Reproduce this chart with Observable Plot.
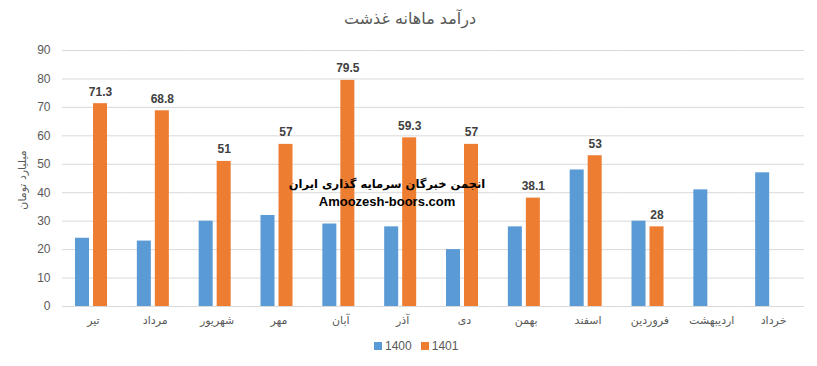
<!DOCTYPE html>
<html>
<head>
<meta charset="utf-8">
<script src="https://cdn.jsdelivr.net/npm/d3@7"></script>
<script src="https://cdn.jsdelivr.net/npm/@observablehq/plot@0.6"></script>
<style>
  html, body { margin: 0; padding: 0; background: #fff; }
  body { width: 817px; height: 366px; position: relative; overflow: hidden; font-family: "Liberation Sans", "DejaVu Sans", sans-serif; }
  #title { position: absolute; left: 0; width: 820px; top: 9px; text-align: center; font-size: 16px; color: #595959; font-family: "DejaVu Sans", sans-serif; }
  #chart { position: absolute; left: 0; top: 36px; }
  #ylabel { position: absolute; left: 22px; top: 180px; transform: translate(-50%, -50%) rotate(-90deg); font-size: 11px; color: #595959; white-space: nowrap; font-family: "DejaVu Sans", sans-serif; }
  #legend { position: absolute; top: 339px; left: 374px; font-size: 12px; color: #595959; display: flex; align-items: center; }
  #legend span.sw { display: inline-block; width: 8px; height: 8px; margin-right: 3px; }
  #legend span.lb { margin-right: 9px; }
  #wm { position: absolute; left: 387px; top: 175px; transform: translateX(-50%); text-align: center; font-weight: bold; color: #000; font-size: 13px; line-height: 18px; white-space: nowrap; }
  #wm .fa { font-family: "DejaVu Sans", sans-serif; font-size: 11.5px; }
</style>
</head>
<body>
<div id="title">درآمد ماهانه غذشت</div>
<div id="chart"></div>
<div id="ylabel">میلیارد تومان</div>
<div id="wm"><div class="fa">انجمن خبرگان سرمایه گذاری ایران</div><div>Amoozesh-boors.com</div></div>
<div id="legend"><span class="sw" style="background:#5B9BD5"></span><span class="lb">1400</span><span class="sw" style="background:#ED7D31"></span><span>1401</span></div>
<script>
const months = ["تیر", "مرداد", "شهریور", "مهر", "آبان", "آذر", "دی", "بهمن", "اسفند", "فروردین", "اردیبهشت", "خرداد"];
const series = ["1400", "1401"];
const values1400 = [24, 23, 30, 32, 29, 28, 20, 28, 48, 30, 41, 47];
const values1401 = [71.3, 68.8, 51, 57, 79.5, 59.3, 57, 38.1, 53, 28, null, null];
const yTicks = [0, 10, 20, 30, 40, 50, 60, 70, 80, 90];
const colors = ["#5B9BD5", "#ED7D31"];

const rows = [];
months.forEach((m, i) => {
  if (values1400[i] != null) rows.push({month: m, year: "1400", value: values1400[i]});
  if (values1401[i] != null) rows.push({month: m, year: "1401", value: values1401[i]});
});
const labelRows = rows.filter(d => d.year === "1401");

const font = "Liberation Sans, DejaVu Sans, sans-serif";

const chart = Plot.plot({
  width: 817,
  height: 300,
  marginLeft: 62,
  marginRight: 13,
  marginTop: 14,
  marginBottom: 30,
  style: {fontFamily: font, fontSize: "12px", color: "#595959", background: "#fff"},
  fx: {domain: months, padding: 0, round: false, label: null},
  x: {domain: series, paddingInner: 0.222, paddingOuter: 0.828, align: 0.436, round: false, axis: null},
  y: {domain: [0, 90], ticks: yTicks, label: null},
  color: {domain: series, range: colors},
  marks: [
    Plot.gridY(yTicks, {stroke: "#d9d9d9", strokeOpacity: 1}),
    Plot.axisY(yTicks, {tickSize: 0, tickPadding: 12, label: null, fill: "#595959", fontSize: 12}),
    Plot.axisFx({anchor: "bottom", tickSize: 0, tickPadding: 10, label: null, fill: "#595959", fontSize: 11, fontFamily: "DejaVu Sans, sans-serif"}),
    Plot.barY(rows, {fx: "month", x: "year", y: "value", fill: "year"}),
    Plot.text(labelRows, {fx: "month", x: "year", y: "value", text: d => String(d.value), lineAnchor: "bottom", dy: -8, fontWeight: "bold", fill: "#404040", fontSize: 12})
  ]
});
document.getElementById("chart").appendChild(chart);
</script>
</body>
</html>
